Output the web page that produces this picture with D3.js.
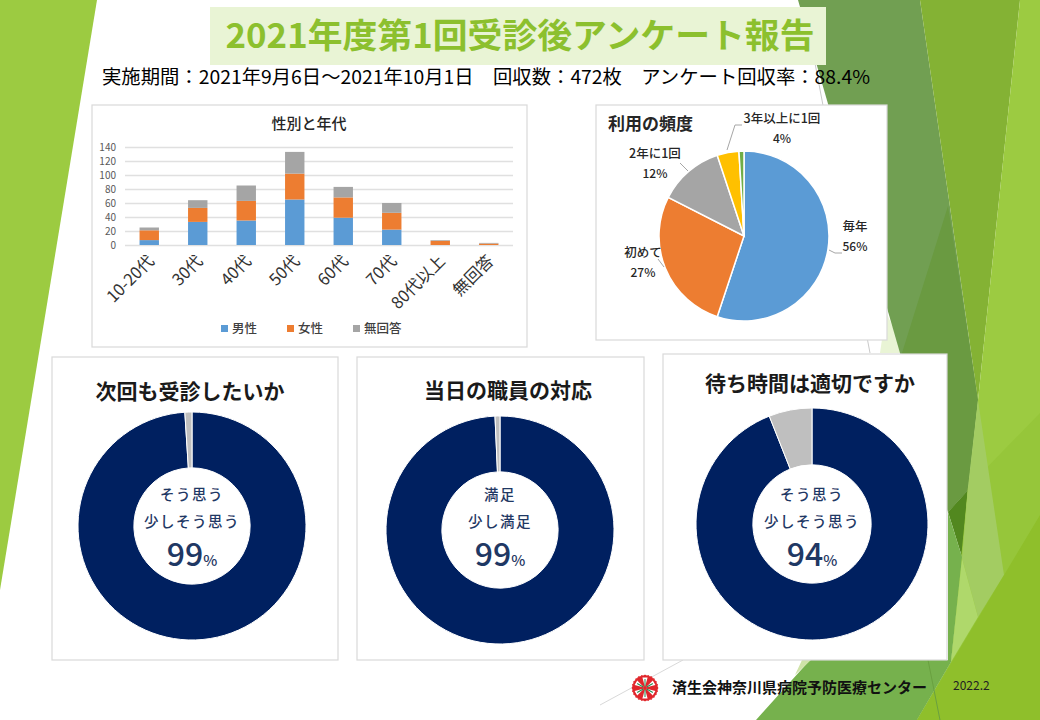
<!DOCTYPE html>
<html>
<head>
<meta charset="utf-8">
<script src="https://cdn.jsdelivr.net/npm/d3@7"></script>
<style>
	html, body { margin: 0; padding: 0; background: #fff; }
	svg { display: block; }
	text { font-family: "Noto Sans CJK JP", "Noto Sans", sans-serif; }
</style>
</head>
<body>
<div id="chart"></div>
<script>
// stacked bars
const ages = ['10-20代', '30代', '40代', '50代', '60代', '70代', '80代以上', '無回答']
const male = [7, 33, 35, 65, 39, 22, 0, 0]
const female = [14, 20, 28, 37, 29, 24, 6, 2]
const noAnswer = [4, 11, 22, 31, 15, 14, 1, 1]
const barSeries = ['男性', '女性', '無回答']
const barTicks = [0, 20, 40, 60, 80, 100, 120, 140]

// frequency pie
const freqNames = ['毎年', '初めて', '2年に1回', '3年以上に1回', 'その他']
const freqValues = [55.1, 27.4, 12.4, 4.15, 0.95]
const freqLabels = ['56%', '27%', '12%', '4%', '']

// donuts
const donutTitles = ['次回も受診したいか', '当日の職員の対応', '待ち時間は適切ですか']
const donutLine1 = ['そう思う', '満足', 'そう思う']
const donutLine2 = ['少しそう思う', '少し満足', '少しそう思う']
const donutYes = [99, 99.3, 94]
const donutNo = [1, 0.7, 6]
const donutPercent = ['99', '99', '94']

const svg = d3.select('#chart').append('svg').attr('width', 1040).attr('height', 720)

const poly = (pts, fill, opacity) =>
	svg.append('polygon')
		.attr('points', pts.join(' '))
		.attr('fill', fill)
		.attr('opacity', opacity === undefined ? 1 : opacity)

const line = (pts, stroke, width, parent) =>
	(parent || svg).append('polyline')
		.attr('points', pts.join(' '))
		.attr('fill', 'none')
		.attr('stroke', stroke)
		.attr('stroke-width', width)

const label = (x, y, str, size, weight, fill, anchor) =>
	svg.append('text')
		.attr('x', x)
		.attr('y', y)
		.attr('dy', '0.35em')
		.attr('font-size', size)
		.attr('font-weight', weight || 400)
		.attr('fill', fill || '#000')
		.attr('text-anchor', anchor || 'middle')
		.text(str)

// slide background
poly(['0,0', '97,0', '0,590'], '#9ccb41')
line(['803,0', '870,353'], '#c9c9c9', 1)
line(['600,705', '683,660'], '#d9d9d9', 1)
poly(['886,312', '905,353', '880,353'], '#e9f4d5')
poly(['798,0', '920,0', '978,400', '968,490', '948,512', '900,353'], '#719f52')
poly(['948,206', '978,400', '968,490', '948,512', '902,353'], '#6a9a41')
poly(['948,512', '968,490', '962,557'], '#52881f')
poly(['920,0', '1020,0', '978,400'], '#84b234')
poly(['1020,0', '1040,0', '1040,720', '917,720', '951,662', '978,400'], '#9ccb41')
poly(['1040,413', '1040,720', '917,720', '951,662', '968,487'], '#96c63a')
poly(['948,512', '962,557', '951,662', '917,720', '756,720', '810,660', '948,660'], '#76b14d')
poly(['978,400', '1004,575', '978,617', '962,558', '968,487'], '#a3cc62')
poly(['962,558', '978,617', '951,662'], '#afd86b')
poly(['1040,515', '1040,720', '917,720'], '#8fbf2b')
poly(['802,660', '811,660', '795,675'], '#cfe3a8')
line(['928,660', '940,720'], '#6aa040', 1)

// heading
svg.append('rect').attr('x', 210).attr('y', 7).attr('width', 616).attr('height', 58).attr('fill', '#e9f4d5')
label(520, 36, '2021年度第1回受診後アンケート報告', 34, 700, '#8cc02e')
	.attr('textLength', 589)
	.attr('lengthAdjust', 'spacingAndGlyphs')
label(102, 77, '実施期間：2021年9月6日～2021年10月1日　回収数：472枚　アンケート回収率：88.4%', 19, 400, '#000', 'start')
	.attr('textLength', 768)
	.attr('lengthAdjust', 'spacingAndGlyphs')

const panel = (x0, y0, x1, y1) =>
	svg.append('rect')
		.attr('x', x0)
		.attr('y', y0)
		.attr('width', x1 - x0)
		.attr('height', y1 - y0)
		.attr('fill', '#fff')
		.attr('stroke', '#d9d9d9')
		.attr('stroke-width', 1.2)

// gender and age bars
panel(92, 105, 527, 347)
label(309, 124, '性別と年代', 15, 500, '#262626')

const barColors = ['#5b9bd5', '#ed7d31', '#a5a5a5']
const rows = ages.map((age, i) => ({ age, 0: male[i], 1: female[i], 2: noAnswer[i] }))

const x = d3.scaleBand().domain(ages).range([125, 513]).paddingInner(0.6).paddingOuter(0.3)
const y = d3.scaleLinear().domain([0, 140]).range([245, 147])

svg.append('g')
	.attr('transform', 'translate(125,0)')
	.call(d3.axisLeft(y).tickValues(barTicks).tickSize(-388).tickPadding(9))
	.call(g => g.select('.domain').remove())
	.call(g => g.selectAll('.tick line').attr('stroke', '#e0e0e0').attr('stroke-width', 1.4))
	.call(g => g.selectAll('.tick text')
		.attr('fill', '#595959')
		.attr('font-size', 10)
		.attr('font-family', '"Noto Sans CJK JP"'))

const stacks = d3.stack().keys([0, 1, 2])(rows)

svg.append('g')
	.selectAll('g')
	.data(stacks)
	.join('g')
	.attr('fill', (d, i) => barColors[i])
	.selectAll('rect')
	.data(d => d)
	.join('rect')
	.attr('x', d => x(d.data.age))
	.attr('y', d => y(d[1]))
	.attr('width', x.bandwidth())
	.attr('height', d => y(d[0]) - y(d[1]))

svg.append('g')
	.selectAll('text')
	.data(ages)
	.join('text')
	.attr('transform', d => `translate(${x(d) + x.bandwidth() / 2 - 1},255) rotate(-45)`)
	.attr('dy', '0.6em')
	.attr('text-anchor', 'end')
	.attr('font-size', 16.5)
	.attr('fill', '#333')
	.text(d => d)

const legendX = d3.scalePoint().domain(barSeries).range([221, 353])

barSeries.forEach((name, i) => {
	svg.append('rect')
		.attr('x', legendX(name))
		.attr('y', 325)
		.attr('width', 7)
		.attr('height', 7)
		.attr('fill', barColors[i])
	label(legendX(name) + 11, 328.5, name, 12.5, 500, '#404040', 'start')
})

// frequency pie
panel(596, 105, 887, 340)
label(608, 124, '利用の頻度', 17, 700, '#262626', 'start')

const pieColors = ['#5b9bd5', '#ed7d31', '#a5a5a5', '#ffc000', '#70ad47']
const freqPie = d3.pie().sort(null)(freqValues)
const freqArc = d3.arc().innerRadius(0).outerRadius(85)

svg.append('g')
	.attr('transform', 'translate(744,236)')
	.selectAll('path')
	.data(freqPie)
	.join('path')
	.attr('d', freqArc)
	.attr('fill', (d, i) => pieColors[i])
	.attr('stroke', '#fff')
	.attr('stroke-width', 1.5)

const freqSpots = [[855, 227], [643, 253], [655, 154], [782, 119]]
freqSpots.forEach((p, i) => {
	label(p[0], p[1], freqNames[i], 12.5, 500, '#262626')
	label(p[0], p[1] + 20, freqLabels[i], 12, 500, '#262626')
})

line(['829,250', '835,253', '842,253'], '#a6a6a6', 1)
line(['658,259', '664,267'], '#a6a6a6', 1)
line(['680,163', '688,171'], '#a6a6a6', 1)
line(['727,150', '735,125', '742,125'], '#a6a6a6', 1)

// donuts
const donutBoxes = [[52, 357, 338, 660], [357, 357, 644, 660], [663, 354, 947, 660]]
const donutCenters = [[192, 526], [500, 530], [812, 524]]
const donutTextY = [526, 526, 526]
const donutTitleSpots = [[190, 392], [508, 391], [810, 384]]
const donutRadius = [114, 114, 116]

donutTitles.forEach((title, i) => {
	const [cx, cy] = donutCenters[i]
	const ty = donutTextY[i]
	panel(...donutBoxes[i])
	label(donutTitleSpots[i][0], donutTitleSpots[i][1], title, 21, 700, '#1a1a1a')

	const arc = d3.arc().innerRadius(donutRadius[i] * 0.51).outerRadius(donutRadius[i])
	svg.append('g')
		.attr('transform', `translate(${cx},${cy})`)
		.selectAll('path')
		.data(d3.pie().sort(null)([donutYes[i], donutNo[i]]))
		.join('path')
		.attr('d', arc)
		.attr('fill', (d, j) => (j === 0 ? '#002060' : '#bfbfbf'))
		.attr('stroke', '#fff')
		.attr('stroke-width', 1)

	label(cx, ty - 31, donutLine1[i], 14.5, 500, '#1f3864').attr('letter-spacing', 1.5)
	label(cx, ty - 4, donutLine2[i], 14.5, 500, '#1f3864').attr('letter-spacing', 1.5)

	const big = label(cx, ty + 29, donutPercent[i], 32, 500, '#1f3864')
	big.append('tspan').attr('font-size', 15).text('%')
})

// footer with hospital mark
const logo = svg.append('g').attr('transform', 'translate(645,688)')
logo.append('circle').attr('r', 12.5).attr('fill', '#e0262b')
logo.selectAll('path.spike')
	.data(d3.range(24))
	.join('path')
	.attr('class', 'spike')
	.attr('d', 'M-2,-12 L0,-13.5 L2,-12 Z')
	.attr('fill', '#e0262b')
	.attr('transform', d => `rotate(${d * 15})`)
logo.selectAll('path.leaf')
	.data(d3.range(6))
	.join('path')
	.attr('class', 'leaf')
	.attr('d', 'M0,-1 L-2.6,-10.5 L2.6,-10.5 Z')
	.attr('fill', '#fff')
	.attr('transform', d => `rotate(${d * 60})`)
logo.selectAll('line')
	.data(d3.range(6))
	.join('line')
	.attr('y1', -2)
	.attr('y2', -9)
	.attr('stroke', '#1f8a4c')
	.attr('stroke-width', 1)
	.attr('transform', d => `rotate(${d * 60})`)
logo.append('circle').attr('r', 1.8).attr('fill', '#e0262b')

label(672, 688, '済生会神奈川県病院予防医療センター', 15, 700, '#111', 'start')
	.attr('textLength', 255)
	.attr('lengthAdjust', 'spacingAndGlyphs')
label(953, 686, '2022.2', 12, 400, '#222', 'start')
</script>
</body>
</html>
